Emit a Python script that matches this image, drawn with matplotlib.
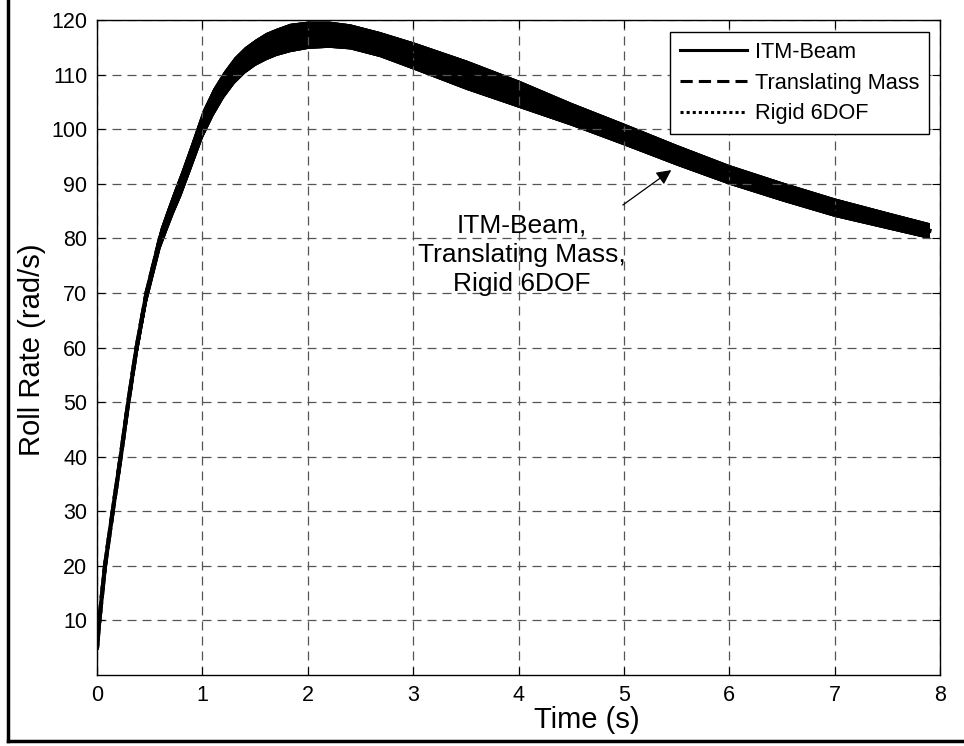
import matplotlib
matplotlib.use("Agg")
import matplotlib.pyplot as plt
from matplotlib.lines import Line2D
import numpy as np

plt.rcParams['font.family'] = ['Liberation Sans', 'DejaVu Sans']

# ---- data ----
time_s = [0.0, 0.022, 0.076, 0.149, 0.225, 0.297, 0.376, 0.47, 0.598, 0.66, 0.724,
          0.795, 0.88, 1.0, 1.1, 1.2, 1.3, 1.4, 1.5, 1.6, 1.7, 1.83, 2.0, 2.2, 2.4,
          2.68, 3.0, 3.5, 4.0, 4.5, 5.0, 5.5, 6.0, 6.5, 7.0, 7.5, 7.9]
roll_rate_mean = [5, 10, 20, 30, 40, 50, 60, 70, 80, 83.3, 86.6,
                  90, 94.5, 101, 105, 108.2, 110.8, 112.7, 114.1, 115.2, 116.0, 116.8, 117.3, 117.4, 117.0,
                  115.6, 113.5, 110.0, 106.5, 102.8, 99.1, 95.3, 91.7, 88.6, 85.7, 83.3, 81.4]
oscillation_amp = [0.5, 0.8, 1.0, 1.2, 1.3, 1.4, 1.5, 1.6, 1.8, 1.9, 2.0,
                   2.2, 2.3, 2.5, 2.5, 2.4, 2.4, 2.4, 2.4, 2.5, 2.5, 2.6, 2.5, 2.4, 2.3,
                   2.3, 2.5, 2.7, 2.5, 2.1, 2.0, 1.9, 1.8, 1.75, 1.7, 1.55, 1.45]

series_names = ['ITM-Beam', 'Translating Mass', 'Rigid 6DOF']
series_styles = ['-', (0, (4, 2)), (0, (1, 1))]

x_ticks = [0, 1, 2, 3, 4, 5, 6, 7, 8]
y_ticks = [10, 20, 30, 40, 50, 60, 70, 80, 90, 100, 110, 120]

annotation_text = 'ITM-Beam,\nTranslating Mass,\nRigid 6DOF'

# ---- figure ----
W, H = 964, 746
fig = plt.figure(figsize=(W / 100, H / 100), dpi=100)
ax = fig.add_axes([97 / W, (H - 675) / H, 843 / W, 655 / H])

t = np.array(time_s)
m = np.array(roll_rate_mean)
a = np.array(oscillation_amp)

handles = []
for name, ls in zip(series_names, series_styles):
    ax.fill_between(t, m - a, m + a, color='black', linewidth=0)
    ax.plot(t, m, color='black', linewidth=3.0, linestyle=ls)
    handles.append(Line2D([0], [0], color='black', linewidth=2.2, linestyle=ls, label=name))

ax.set_xlim(0, 8)
ax.set_ylim(0, 120)
ax.set_xticks(x_ticks)
ax.set_yticks(y_ticks)
ax.tick_params(direction='in', length=6, width=0.8, top=True, right=True,
               labelsize=15.5, pad=7, colors='black')
ax.grid(True, color='#555555', linestyle=(0, (7.2, 4.8)), linewidth=0.9)
for sp in ax.spines.values():
    sp.set_linewidth(1.0)
    sp.set_color('black')

ax.set_xlabel('Time (s)', fontsize=21)
ax.xaxis.set_label_coords((587 - 97) / 843, -(706 - 675) / 655)
ax.set_ylabel('Roll Rate (rad/s)', fontsize=21)
ax.yaxis.set_label_coords(-(97 - 46) / 843, (675 - 350) / 655)

leg = ax.legend(handles=handles, loc='upper right', bbox_to_anchor=(1 - 11 / 843, 1 - 12 / 655),
                borderaxespad=0, fontsize=15.7, frameon=True, fancybox=False,
                handlelength=3.1, handletextpad=0.35, labelspacing=0.45,
                borderpad=0.45, framealpha=1)
leg.get_frame().set_edgecolor('black')
leg.get_frame().set_linewidth(1.0)

ax.text(4.03, 77.0, annotation_text, ha='center', va='center', fontsize=19,
        linespacing=1.3)
ax.annotate('', xy=(5.45, 92.5), xytext=(4.99, 86.1),
            arrowprops=dict(arrowstyle='-|>', color='black', lw=0.9,
                            mutation_scale=22, shrinkA=0, shrinkB=0))

# outer frame (left and bottom edges visible)
fig.add_artist(Line2D([8 / W, 8 / W], [(H - 741) / H, 1], transform=fig.transFigure,
                      color='black', linewidth=2.5))
fig.add_artist(Line2D([8 / W, 1], [(H - 741) / H, (H - 741) / H], transform=fig.transFigure,
                      color='black', linewidth=2.5))

fig.savefig('out.png', dpi=100)
